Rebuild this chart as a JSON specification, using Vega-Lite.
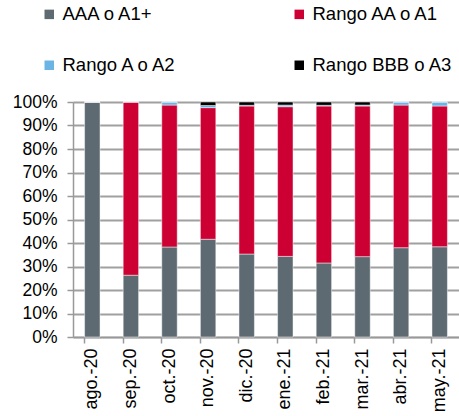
{
  "$schema": "https://vega.github.io/schema/vega-lite/v6.json",
  "width": 386,
  "height": 235,
  "autosize": {"type": "none"},
  "padding": {"left": 73, "top": 102, "right": 0, "bottom": 79},
  "background": "white",
  "config": {
    "font": "Liberation Sans",
    "view": {"stroke": null}
  },
  "data": {
    "values": [
      {"mes": "ago.-20", "cat": "AAA o A1+", "o": 1, "v": 100},
      {"mes": "ago.-20", "cat": "Rango AA o A1", "o": 2, "v": 0},
      {"mes": "ago.-20", "cat": "Rango A o A2", "o": 3, "v": 0},
      {"mes": "ago.-20", "cat": "Rango BBB o A3", "o": 4, "v": 0},
      {"mes": "sep.-20", "cat": "AAA o A1+", "o": 1, "v": 26.3},
      {"mes": "sep.-20", "cat": "Rango AA o A1", "o": 2, "v": 73.7},
      {"mes": "sep.-20", "cat": "Rango A o A2", "o": 3, "v": 0},
      {"mes": "sep.-20", "cat": "Rango BBB o A3", "o": 4, "v": 0},
      {"mes": "oct.-20", "cat": "AAA o A1+", "o": 1, "v": 38.3},
      {"mes": "oct.-20", "cat": "Rango AA o A1", "o": 2, "v": 60.4},
      {"mes": "oct.-20", "cat": "Rango A o A2", "o": 3, "v": 1.3},
      {"mes": "oct.-20", "cat": "Rango BBB o A3", "o": 4, "v": 0},
      {"mes": "nov.-20", "cat": "AAA o A1+", "o": 1, "v": 41.6},
      {"mes": "nov.-20", "cat": "Rango AA o A1", "o": 2, "v": 56.0},
      {"mes": "nov.-20", "cat": "Rango A o A2", "o": 3, "v": 0.9},
      {"mes": "nov.-20", "cat": "Rango BBB o A3", "o": 4, "v": 1.5},
      {"mes": "dic.-20", "cat": "AAA o A1+", "o": 1, "v": 35.3},
      {"mes": "dic.-20", "cat": "Rango AA o A1", "o": 2, "v": 63.0},
      {"mes": "dic.-20", "cat": "Rango A o A2", "o": 3, "v": 0.3},
      {"mes": "dic.-20", "cat": "Rango BBB o A3", "o": 4, "v": 1.4},
      {"mes": "ene.-21", "cat": "AAA o A1+", "o": 1, "v": 34.3},
      {"mes": "ene.-21", "cat": "Rango AA o A1", "o": 2, "v": 63.7},
      {"mes": "ene.-21", "cat": "Rango A o A2", "o": 3, "v": 0.7},
      {"mes": "ene.-21", "cat": "Rango BBB o A3", "o": 4, "v": 1.3},
      {"mes": "feb.-21", "cat": "AAA o A1+", "o": 1, "v": 31.5},
      {"mes": "feb.-21", "cat": "Rango AA o A1", "o": 2, "v": 66.8},
      {"mes": "feb.-21", "cat": "Rango A o A2", "o": 3, "v": 0.3},
      {"mes": "feb.-21", "cat": "Rango BBB o A3", "o": 4, "v": 1.4},
      {"mes": "mar.-21", "cat": "AAA o A1+", "o": 1, "v": 34.2},
      {"mes": "mar.-21", "cat": "Rango AA o A1", "o": 2, "v": 64.1},
      {"mes": "mar.-21", "cat": "Rango A o A2", "o": 3, "v": 0.4},
      {"mes": "mar.-21", "cat": "Rango BBB o A3", "o": 4, "v": 1.3},
      {"mes": "abr.-21", "cat": "AAA o A1+", "o": 1, "v": 38.0},
      {"mes": "abr.-21", "cat": "Rango AA o A1", "o": 2, "v": 60.7},
      {"mes": "abr.-21", "cat": "Rango A o A2", "o": 3, "v": 1.3},
      {"mes": "abr.-21", "cat": "Rango BBB o A3", "o": 4, "v": 0},
      {"mes": "may.-21", "cat": "AAA o A1+", "o": 1, "v": 38.4},
      {"mes": "may.-21", "cat": "Rango AA o A1", "o": 2, "v": 59.9},
      {"mes": "may.-21", "cat": "Rango A o A2", "o": 3, "v": 1.7},
      {"mes": "may.-21", "cat": "Rango BBB o A3", "o": 4, "v": 0}
    ]
  },
  "mark": {"type": "bar", "stroke": "white", "strokeWidth": 0.8, "strokeOpacity": 0.6},
  "encoding": {
    "x": {
      "field": "mes",
      "type": "nominal",
      "sort": null,
      "scale": {"paddingInner": 0.6, "paddingOuter": 0.3},
      "axis": {
        "title": null,
        "labelAngle": -90,
        "labelFontSize": 18,
        "labelColor": "#000000",
        "labelPadding": 5,
        "bandPosition": 0,
        "tickSize": 6,
        "tickColor": "#999999",
        "tickWidth": 1.5,
        "domainColor": "#999999",
        "domainWidth": 1.5,
        "grid": false
      }
    },
    "y": {
      "field": "v",
      "type": "quantitative",
      "stack": "zero",
      "scale": {"domain": [0, 100], "nice": false},
      "axis": {
        "title": null,
        "values": [0, 10, 20, 30, 40, 50, 60, 70, 80, 90, 100],
        "labelExpr": "datum.value + '%'",
        "labelFontSize": 17.5,
        "labelColor": "#000000",
        "labelPadding": 10,
        "tickSize": 6,
        "tickColor": "#999999",
        "tickWidth": 1.5,
        "domainColor": "#999999",
        "domainWidth": 1.5,
        "grid": true,
        "gridColor": "#a0a0a0",
        "gridWidth": 2
      }
    },
    "color": {
      "field": "cat",
      "type": "nominal",
      "sort": ["AAA o A1+", "Rango AA o A1", "Rango A o A2", "Rango BBB o A3"],
      "scale": {
        "domain": ["AAA o A1+", "Rango AA o A1", "Rango A o A2", "Rango BBB o A3"],
        "range": ["#5d6a72", "#cc0033", "#6cb4e4", "#000000"]
      },
      "legend": {
        "title": null,
        "orient": "none",
        "direction": "horizontal",
        "legendX": -33,
        "legendY": -97,
        "columns": 2,
        "columnPadding": 112,
        "rowPadding": 32,
        "symbolType": "square",
        "symbolSize": 90,
        "symbolStrokeWidth": 0,
        "symbolOffset": 0,
        "labelOffset": 4,
        "labelFontSize": 18.5,
        "labelColor": "#000000",
        "labelLimit": 300
      }
    },
    "order": {"field": "o", "type": "quantitative"}
  }
}
